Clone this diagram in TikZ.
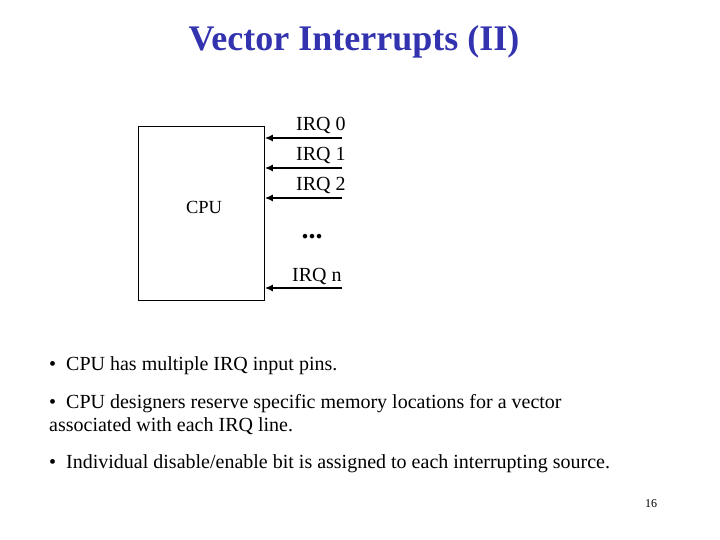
\documentclass[tikz,border=0pt]{standalone}
\usepackage{fontspec}
\setmainfont{Liberation Serif}
\usetikzlibrary{arrows.meta}
\definecolor{titleblue}{RGB}{51,51,175}
\begin{document}
\begin{tikzpicture}[x=1pt,y=-1pt,
  txt/.style={inner sep=0pt,font=\fontsize{20}{23}\selectfont},
  irq/.style={txt,anchor=base west},
  bul/.style={txt,anchor=base west},
  pin/.style={line width=1.9pt,-{Latex[length=8pt,width=7pt]}},
  cpubox/.style={draw,line width=0.8pt,inner sep=0pt}]
\useasboundingbox (0,0) rectangle (720,540);
\node[inner sep=0pt,anchor=base,text=titleblue,font=\fontsize{36}{40}\selectfont\bfseries] (title) at (354,51) {Vector Interrupts (II)};
\node[cpubox,minimum width=126pt,minimum height=174pt,anchor=north west] (cpu) at (138,126) {};
\node[txt,anchor=base,font=\fontsize{18.5}{22}\selectfont] (cpulbl) at (204,214) {CPU};
\foreach \n/\y/\lx in {0/138/296,1/168/296,2/198/296,n/288/292}{
  \coordinate (s\n) at (342,\y);
  \coordinate (e\n) at (cpu.east |- s\n);
  \draw[pin] (s\n) -- (e\n);
  \node[irq] (l\n) at (\lx,\y-7) {IRQ \n};
}
\node[txt,anchor=base,font=\fontsize{28}{30}\selectfont\bfseries] (dots) at (312,239) {...};
\node[bul] (b1) at (49,370) {\textbullet\hspace{10pt}CPU has multiple IRQ input pins.};
\node[bul] (b2) at (49,408) {\textbullet\hspace{10pt}CPU designers reserve specific memory locations for a vector};
\node[bul] (b2b) at (49,431) {associated with each IRQ line.};
\node[bul] (b3) at (49,468) {\textbullet\hspace{10pt}Individual disable/enable bit is assigned to each interrupting source.};
\node[inner sep=0pt,anchor=center,font=\fontsize{12}{14}\selectfont] (pg) at (651,504) {16};
\end{tikzpicture}
\end{document}
